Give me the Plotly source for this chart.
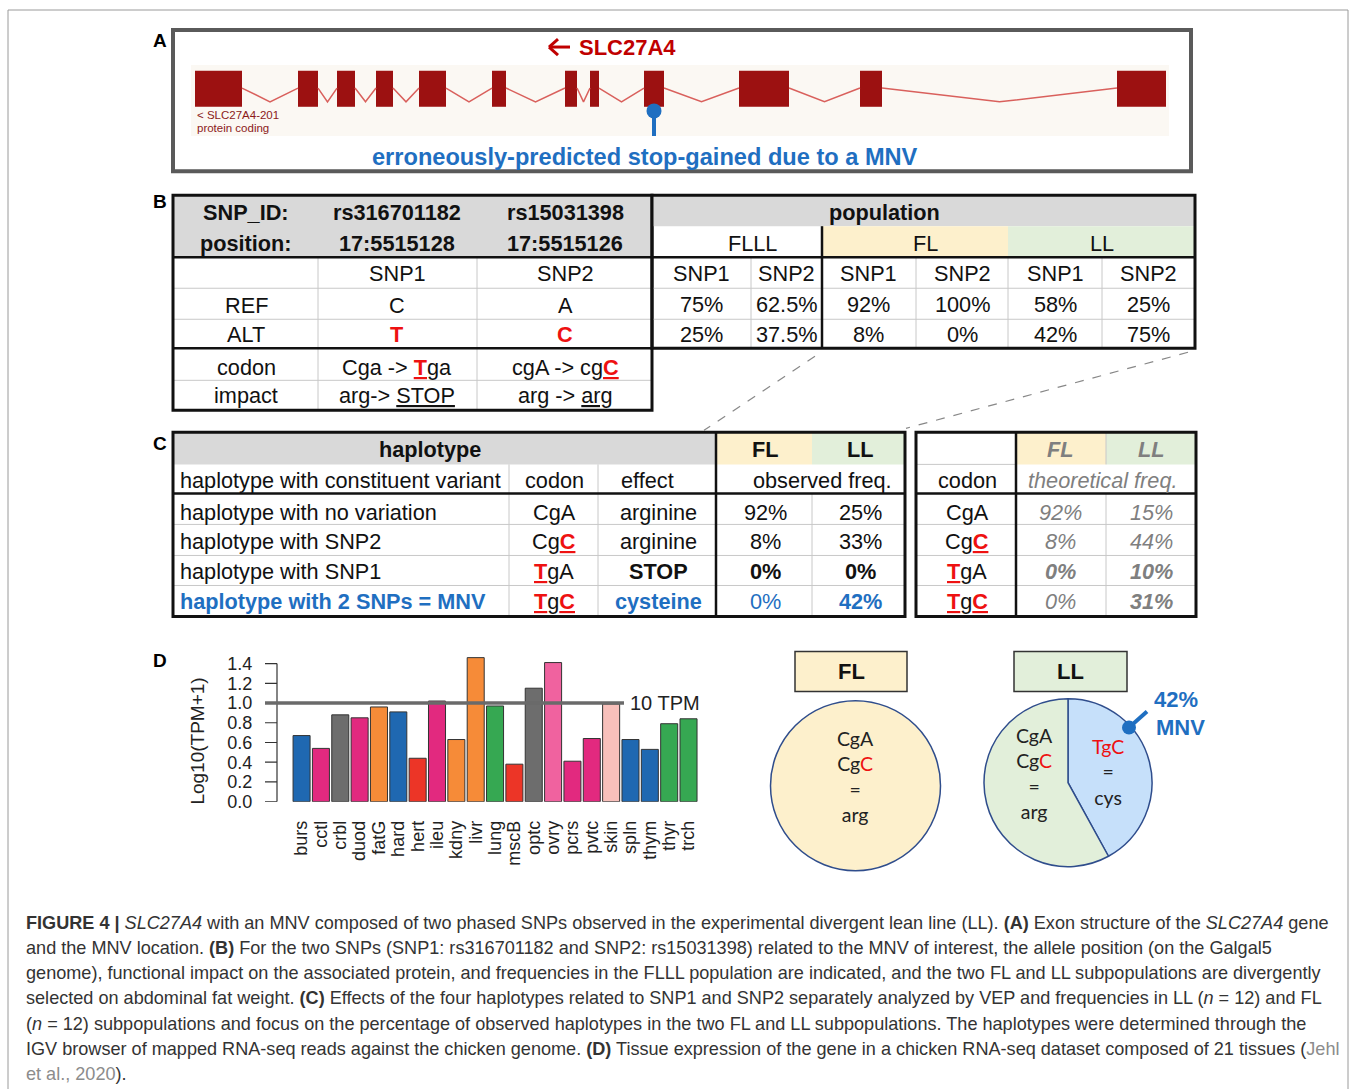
import plotly.graph_objects as go

W, H = 1358, 1089
K = 1100 / 1089  # vertical compensation for the capture
FONT = "Liberation Sans, Arial, sans-serif"
PIEFONT = "Lato, Liberation Sans, sans-serif"

# ---------------- data ----------------
tissues = ['burs', 'cctl', 'crbl', 'duod', 'fatG', 'hard', 'hert', 'ileu', 'kdny', 'livr', 'lung',
           'mscB', 'optc', 'ovry', 'pcrs', 'pvtc', 'skin', 'spln', 'thym', 'thyr', 'trch']
log_tpm = [0.67, 0.54, 0.88, 0.85, 0.96, 0.91, 0.44, 1.02, 0.63, 1.46, 0.97,
           0.38, 1.15, 1.41, 0.41, 0.64, 0.99, 0.63, 0.53, 0.79, 0.84]
tissue_group = ['B', 'P', 'G', 'P', 'O', 'B', 'R', 'P', 'O', 'O', 'N',
                'R', 'G', 'V', 'P', 'P', 'S', 'B', 'B', 'N', 'N']
y_ticks = [0, 0.2, 0.4, 0.6, 0.8, 1.0, 1.2, 1.4]
threshold_log = 1.0
threshold_label = '10 TPM'

exon_start = [0, 103, 142, 181, 224, 297, 370, 395, 449, 544, 665, 922]
exon_end = [47, 123, 160, 198, 251, 311, 382, 404, 469, 594, 687, 971]
track_len = 971
mnv_exon = 8

snp_ids = ['rs316701182', 'rs15031398']
snp_pos = ['17:5515128', '17:5515126']
ref_allele = ['C', 'A']
alt_allele = ['T', 'C']
pop_names = ['FLLL', 'FL', 'LL']
ref_freq = ['75%', '62.5%', '92%', '100%', '58%', '25%']
alt_freq = ['25%', '37.5%', '8%', '0%', '42%', '75%']

hap_names = ['haplotype with no variation', 'haplotype with SNP2', 'haplotype with SNP1',
             'haplotype with 2 SNPs = MNV']
hap_effect = ['arginine', 'arginine', 'STOP', 'cysteine']
obs_fl = [92, 8, 0, 0]
obs_ll = [25, 33, 0, 42]
theo_fl = [92, 8, 0, 0]
theo_ll = [15, 44, 10, 31]

# ---------------- style ----------------
GROUP_COL = {'B': '#1f68b1', 'P': '#e2297f', 'G': '#6d6d6d', 'O': '#f68b38', 'R': '#ec3527',
             'N': '#36a852', 'V': '#f0629f', 'S': '#f8c0bb'}
GRAYH = '#d9d9d9'
BEIGE = '#fdf0cc'
GREEN = '#e2efda'
LIGHT = '#c8c8c8'
DARK = '#111111'
RED = '#ee1111'
BLUEt = '#1f6fc1'
EXON = '#9c1111'


def X(px):
    return px / W


def Y(py):
    return 1 - py * K / H


shapes, annos = [], []


def rect(x0, y0, x1, y1, fill=None, line=None, lw=0, layer='above'):
    shapes.append(dict(type='rect', xref='paper', yref='paper', x0=X(x0), x1=X(x1), y0=Y(y1), y1=Y(y0),
                       fillcolor=fill or 'rgba(0,0,0,0)',
                       line=dict(color=line or 'rgba(0,0,0,0)', width=lw), layer=layer))


def seg(x0, y0, x1, y1, color, lw=1, dash='solid'):
    shapes.append(dict(type='line', xref='paper', yref='paper', x0=X(x0), y0=Y(y0), x1=X(x1), y1=Y(y1),
                       line=dict(color=color, width=lw, dash=dash)))


def txt(x, y, s, size=21.7, color='#111', bold=False, italic=False, xa='center', family=FONT, angle=0):
    if bold:
        s = '<b>' + s + '</b>'
    if italic:
        s = '<i>' + s + '</i>'
    annos.append(dict(x=X(x), y=Y(y), xref='paper', yref='paper', text=s, showarrow=False,
                      xanchor=xa, yanchor='middle', textangle=angle,
                      font=dict(size=size, color=color, family=family)))


def red(s, bold=True, u=True):
    t = s
    if u:
        t = '<u>' + t + '</u>'
    if bold:
        t = '<b>' + t + '</b>'
    return "<span style='color:%s'>%s</span>" % (RED, t)


def codon_html(snp1, snp2, bold=True):
    a = red('T', bold) if snp1 else 'C'
    b = red('C', bold) if snp2 else 'A'
    return a + 'g' + b


# ---------------- frame ----------------
seg(8, 10, 1348, 10, '#9a9a9a', 1)
seg(8, 10, 8, 1095, '#9a9a9a', 1)
seg(1348, 10, 1348, 1095, '#9a9a9a', 1)

for lab, yy in zip('ABCD', [40, 201, 443, 660]):
    txt(160, yy, lab, size=19, color='#000', bold=True)

# ---------------- panel A ----------------
rect(191, 65, 1169, 136, fill='#fbf8f3', layer='below')
rect(173, 30, 1191, 171, line='#5a5a5a', lw=4)
# arrow
seg(550, 47, 570, 47, '#c00000', 3)
seg(549, 47, 558, 39, '#c00000', 3)
seg(549, 47, 558, 55, '#c00000', 3)
txt(577, 47, 'SLC27A4', size=22, color='#c00000', bold=True, xa='left')
txt(195, 115, '&lt; SLC27A4-201', size=11.5, color='#8b1a1a', xa='left')
txt(195, 128, 'protein coding', size=11.5, color='#8b1a1a', xa='left')
txt(645, 157, 'erroneously-predicted stop-gained due to a MNV', size=23.6, color=BLUEt, bold=True)

fig = go.Figure()
ix, iy = [], []
for i in range(len(exon_start) - 1):
    a, b = exon_end[i], exon_start[i + 1]
    ix += [a, (a + b) / 2, b, None]
    iy += [0.667, 0.476, 0.667, None]
fig.add_trace(go.Scatter(x=ix, y=iy, mode='lines', line=dict(color='#d9605c', width=1.5),
                         xaxis='x2', yaxis='y2', hoverinfo='skip'))
fig.add_trace(go.Bar(x=[e - s for s, e in zip(exon_start, exon_end)], base=exon_start,
                     y=[0.657] * len(exon_start), orientation='h', width=0.5,
                     marker=dict(color=EXON, line=dict(width=0)), xaxis='x2', yaxis='y2', hoverinfo='skip'))
mx = (exon_start[mnv_exon] + exon_end[mnv_exon]) / 2
fig.add_trace(go.Scatter(x=[mx, mx], y=[0.35, -0.06], mode='lines', line=dict(color=BLUEt, width=4),
                         xaxis='x2', yaxis='y2', hoverinfo='skip', cliponaxis=False))
fig.add_trace(go.Scatter(x=[mx], y=[0.35], mode='markers', marker=dict(color=BLUEt, size=15),
                         xaxis='x2', yaxis='y2', hoverinfo='skip', cliponaxis=False))

# ---------------- panel B ----------------
rect(173, 195, 652, 257, fill=GRAYH)
for yy in (288, 319, 380):
    seg(173, yy, 652, yy, LIGHT, 1)
for xx in (318, 477):
    seg(xx, 257, xx, 410, LIGHT, 1)
seg(173, 257, 652, 257, DARK, 2.5)
seg(173, 348, 652, 348, DARK, 2.5)
rect(173, 195, 652, 410, line=DARK, lw=3)
cols = [246, 397, 565]
txt(cols[0], 212, 'SNP_ID:', bold=True)
txt(cols[0], 243, 'position:', bold=True)
for k in range(2):
    txt(cols[k + 1], 212, snp_ids[k], bold=True)
    txt(cols[k + 1], 243, snp_pos[k], bold=True)
    txt(cols[k + 1], 273, 'SNP%d' % (k + 1))
    txt(cols[k + 1], 305, ref_allele[k])
    txt(cols[k + 1], 334, red(alt_allele[k], True, False))
txt(cols[0], 305, 'REF')
txt(cols[0], 334, 'ALT')
txt(cols[0], 367, 'codon')
txt(cols[0], 395, 'impact')
txt(cols[1], 367, 'Cga -> ' + red(alt_allele[0]) + 'ga')
txt(cols[2], 367, 'cgA -> cg' + red(alt_allele[1]))
txt(cols[1], 395, 'arg-> <u>STOP</u>')
txt(cols[2], 395, 'arg -> <u>arg</u>')

rect(652, 195, 1195, 226, fill=GRAYH)
rect(822, 226, 1008, 257, fill=BEIGE)
rect(1008, 226, 1195, 257, fill=GREEN)
for xx in (751, 916, 1008, 1102):
    seg(xx, 257, xx, 348, LIGHT, 1)
for yy in (288, 319):
    seg(652, yy, 1195, yy, LIGHT, 1)
seg(652, 257, 1195, 257, DARK, 2.5)
seg(822, 226, 822, 348, DARK, 2.5)
rect(652, 195, 1195, 348, line=DARK, lw=3)
txt(884, 212, 'population', bold=True)
for name, xx in zip(pop_names, [752, 925, 1102]):
    txt(xx, 243, name)
pcols = [701.5, 786.5, 869, 962, 1055, 1148.5]
for j, xx in enumerate(pcols):
    txt(xx, 273, 'SNP%d' % (j % 2 + 1))
    txt(xx, 304, ref_freq[j])
    txt(xx, 334, alt_freq[j])

seg(815, 356, 704, 430, '#888', 1.2, 'dash')
seg(1188, 352, 906, 428, '#888', 1.2, 'dash')

# ---------------- panel C ----------------
rect(173, 432, 716, 464, fill=GRAYH)
rect(716, 432, 812, 464, fill=BEIGE)
rect(812, 432, 905, 464, fill=GREEN)
for yy in (524, 555, 585):
    seg(173, yy, 905, yy, LIGHT, 1)
for xx in (509, 598):
    seg(xx, 464, xx, 616, LIGHT, 1)
seg(812, 493, 812, 616, LIGHT, 1)
seg(173, 493, 905, 493, DARK, 2.5)
seg(716, 432, 716, 616, DARK, 2.5)
rect(173, 432, 905, 616, line=DARK, lw=3)

rect(1016, 432, 1106, 464, fill=BEIGE)
rect(1106, 432, 1196, 464, fill=GREEN)
seg(916, 464, 1016, 464, LIGHT, 1)
seg(1106, 432, 1106, 464, LIGHT, 1)
for yy in (524, 555, 585):
    seg(916, yy, 1196, yy, LIGHT, 1)
seg(1106, 493, 1106, 616, LIGHT, 1)
seg(916, 493, 1196, 493, DARK, 2.5)
seg(1016, 432, 1016, 616, DARK, 2.5)
rect(916, 432, 1196, 616, line=DARK, lw=3)

txt(430, 449, 'haplotype', bold=True)
txt(765, 449, 'FL', bold=True)
txt(860, 449, 'LL', bold=True)
txt(178, 480, 'haplotype with constituent variant', xa='left')
txt(554, 480, 'codon')
txt(647, 480, 'effect')
txt(822, 480, 'observed freq.')
txt(1060, 449, 'FL', color='#7f7f7f', bold=True, italic=True)
txt(1151, 449, 'LL', color='#7f7f7f', bold=True, italic=True)
txt(967, 480, 'codon')
txt(1102, 480, 'theoretical freq.', color='#7f7f7f', italic=True)

hap_snp = [(False, False), (False, True), (True, False), (True, True)]
rows_y = [512, 541, 571, 601]
for r in range(4):
    yy = rows_y[r]
    mnv = r == 3
    stop = r == 2
    col = BLUEt if mnv else '#111'
    txt(178, yy, hap_names[r], xa='left', color=col, bold=mnv)
    cod = codon_html(*hap_snp[r])
    txt(554, yy, cod)
    txt(967, yy, cod)
    txt(658, yy, hap_effect[r], color=col, bold=(mnv or stop))
    txt(765, yy, '%d%%' % obs_fl[r], color=col, bold=stop)
    txt(860, yy, '%d%%' % obs_ll[r], color=col, bold=(stop or mnv))
    txt(1060, yy, '%d%%' % theo_fl[r], color='#7f7f7f', italic=True, bold=stop)
    txt(1151, yy, '%d%%' % theo_ll[r], color='#7f7f7f', italic=True, bold=(r >= 2))

# ---------------- panel D: bar chart ----------------
XD0, XD1 = 277, 710
fig.add_trace(go.Bar(x=tissues, y=log_tpm, width=0.88,
                     marker=dict(color=[GROUP_COL[g] for g in tissue_group], line=dict(color='#333', width=1)),
                     xaxis='x', yaxis='y', hoverinfo='skip'))
shapes.append(dict(type='line', xref='x domain', yref='y', x0=0, x1=0, y0=0, y1=max(y_ticks),
                   line=dict(color='#333', width=1.2)))
for tv in y_ticks:
    shapes.append(dict(type='line', xref='x domain', yref='y', x0=0, x1=-12 / (XD1 - XD0), y0=tv, y1=tv,
                       line=dict(color='#333', width=1.2)))
shapes.append(dict(type='line', xref='paper', yref='y', x0=X(265), x1=X(624), y0=threshold_log, y1=threshold_log,
                   line=dict(color='#6a6a6a', width=3.5)))
annos.append(dict(x=X(628), y=threshold_log, xref='paper', yref='y', text=threshold_label, showarrow=False,
                  xanchor='left', yanchor='middle', font=dict(size=20, color='#222', family=FONT)))
txt(198, 741, 'Log10(TPM+1)', size=19, color='#222', angle=-90)

# ---------------- panel D: pies ----------------
fl_vals = [obs_fl[0] + obs_fl[1], obs_fl[3]]
ll_vals = [obs_ll[3], obs_ll[0] + obs_ll[1]]
fl_cols = [BEIGE, '#c6e0fa']
fl_v = [v for v in fl_vals if v > 0]
fl_c = [c for v, c in zip(fl_vals, fl_cols) if v > 0]
fig.add_trace(go.Pie(values=fl_v, marker=dict(colors=fl_c, line=dict(color='#2f4d8c', width=1.5)),
                     sort=False, direction='clockwise', textinfo='none', hoverinfo='skip',
                     domain=dict(x=[X(770.5), X(940.5)], y=[Y(870), Y(700)])))
fig.add_trace(go.Pie(values=ll_vals, marker=dict(colors=['#c6e0fa', GREEN], line=dict(color='#2f4d8c', width=1.5)),
                     sort=False, direction='clockwise', rotation=0, textinfo='none', hoverinfo='skip',
                     domain=dict(x=[X(984), X(1152)], y=[Y(866), Y(698)])))

rect(795, 651, 907, 691, fill=BEIGE, line='#333', lw=1.5)
rect(1014, 651, 1127, 691, fill=GREEN, line='#333', lw=1.5)
txt(851, 671, 'FL', size=22, color='#111', bold=True)
txt(1070, 671, 'LL', size=22, color='#111', bold=True)

rc = "<span style='color:%s'>C</span>" % RED
txt(855, 776, 'CgA<br>Cg' + rc + '<br>=<br>arg', size=19.5, color='#222', family=PIEFONT)
txt(1034, 773, 'CgA<br>Cg' + rc + '<br>=<br>arg', size=19.5, color='#222', family=PIEFONT)
txt(1108, 771, "<span style='color:%s'>TgC</span><br>=<br>cys" % RED, size=19.5, color='#222', family=PIEFONT)

seg(1129, 727, 1147, 711, BLUEt, 4)
shapes.append(dict(type='circle', xref='paper', yref='paper', x0=X(1122), x1=X(1136), y0=Y(734), y1=Y(720),
                   fillcolor=BLUEt, line=dict(color=BLUEt, width=0)))
txt(1176, 699, '42%', size=22, color=BLUEt, bold=True)
txt(1180, 727, 'MNV', size=22, color=BLUEt, bold=True)

# ---------------- caption ----------------
G = "<span style='color:#8c8c8c'>%s</span>"
cap = [
    "<b>FIGURE 4 |</b> <i>SLC27A4</i> with an MNV composed of two phased SNPs observed in the experimental divergent lean line (LL). <b>(A)</b> Exon structure of the <i>SLC27A4</i> gene",
    "and the MNV location. <b>(B)</b> For the two SNPs (SNP1: rs316701182 and SNP2: rs15031398) related to the MNV of interest, the allele position (on the Galgal5",
    "genome), functional impact on the associated protein, and frequencies in the FLLL population are indicated, and the two FL and LL subpopulations are divergently",
    "selected on abdominal fat weight. <b>(C)</b> Effects of the four haplotypes related to SNP1 and SNP2 separately analyzed by VEP and frequencies in LL (<i>n</i> = 12) and FL",
    "(<i>n</i> = 12) subpopulations and focus on the percentage of observed haplotypes in the two FL and LL subpopulations. The haplotypes were determined through the",
    "IGV browser of mapped RNA-seq reads against the chicken genome. <b>(D)</b> Tissue expression of the gene in a chicken RNA-seq dataset composed of 21 tissues (" + G % "Jehl",
    G % "et al., 2020" + ").",
]
for k, line in enumerate(cap):
    txt(24, 922 + 25.2 * k, line, size=18.1, color='#333', xa='left')

fig.update_layout(
    width=W, height=H, margin=dict(l=0, r=0, t=0, b=0),
    paper_bgcolor='white', plot_bgcolor='rgba(0,0,0,0)', showlegend=False,
    xaxis=dict(domain=[X(XD0), X(XD1)], range=[-1.27, 21.11], anchor='y', showline=False, showgrid=False,
               zeroline=False, ticks='outside', ticklen=11, tickcolor='rgba(0,0,0,0)', tickangle=-90,
               tickmode='array', tickvals=tissues, ticktext=tissues,
               tickfont=dict(size=18, color='#222', family=FONT)),
    yaxis=dict(domain=[Y(801), Y(650)], range=[0, 1.532], anchor='x', showline=False, showgrid=False,
               zeroline=False, ticks='outside', ticklen=20, tickcolor='rgba(0,0,0,0)',
               tickmode='array', tickvals=y_ticks, ticktext=['%.1f' % v for v in y_ticks],
               tickfont=dict(size=18, color='#222', family=FONT)),
    xaxis2=dict(domain=[X(195), X(195 + track_len)], range=[0, track_len], anchor='y2', visible=False),
    yaxis2=dict(domain=[Y(136), Y(64)], range=[0, 1], anchor='x2', visible=False),
    shapes=shapes, annotations=annos,
)

fig.write_html('out.html', config={'displayModeBar': False},
               post_script="document.body.style.margin='0';document.body.style.overflow='hidden';")
